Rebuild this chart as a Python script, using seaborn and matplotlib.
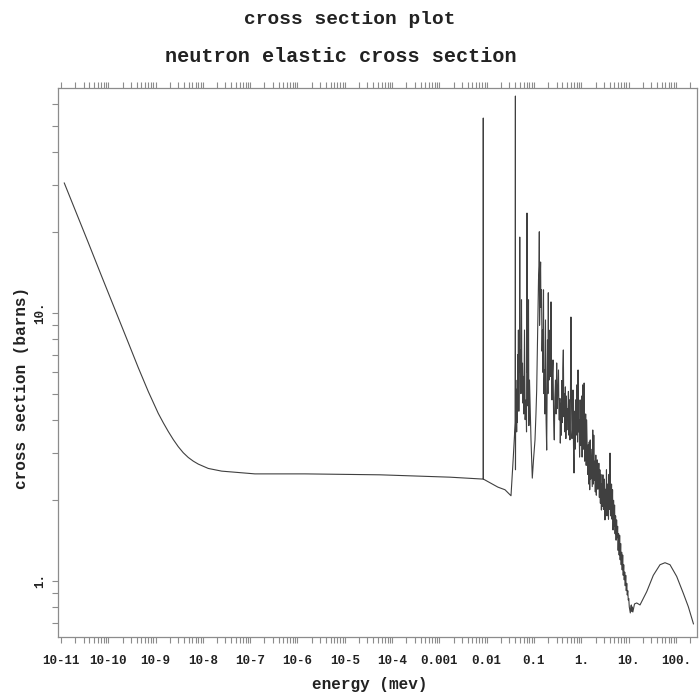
import numpy as np
import pandas as pd
import matplotlib
matplotlib.use("Agg")
import matplotlib.pyplot as plt
import seaborn as sns
from matplotlib.ticker import FixedLocator, NullFormatter

# ---------------- data ----------------
# thermal + flat region
thermal_energy = [1.17e-11, 1.98e-11, 3.78e-11, 7.25e-11, 1.39e-10, 2.65e-10, 4.31e-10,
                  7.02e-10, 9.0e-10, 1.14e-9, 1.46e-9, 1.86e-9, 2.37e-9, 3.02e-9,
                  3.85e-9, 4.91e-9, 6.27e-9, 8.00e-9, 1.30e-8,
                  2.50e-8, 5.60e-8, 1.26e-7, 6.38e-7, 1.44e-6, 5.55e-5, 1.675e-3, 7.96e-3]
thermal_sigma = [30.6, 24.3, 18.3, 13.7, 10.3, 7.75, 6.25,
                 5.09, 4.62, 4.22, 3.89, 3.61, 3.37, 3.17,
                 3.01, 2.89, 2.80, 2.73, 2.63,
                 2.57, 2.54, 2.51, 2.51, 2.51, 2.49, 2.44, 2.40]

# first two big resonances and the resolved-resonance cluster (0.008 - 0.36 MeV)
resonance_energy = [0.00843, 0.00846, 0.00852, 0.01725, 0.02437, 0.03264, 0.03651, 0.04000,
                    0.04045, 0.04060, 0.04083, 0.04122, 0.04163, 0.04224, 0.04300, 0.04372,
                    0.04450, 0.04530, 0.04589, 0.04680, 0.04760, 0.04800, 0.04950, 0.05000,
                    0.05060, 0.05183, 0.05300, 0.05441, 0.05550, 0.05712, 0.05850, 0.05940,
                    0.06100, 0.06295, 0.06500, 0.06774, 0.06950, 0.07112, 0.07200, 0.07288,
                    0.07450, 0.07652, 0.07800, 0.08033, 0.08643, 0.09206, 0.09758, 0.1050,
                    0.1100, 0.1140, 0.1197, 0.1245, 0.1280, 0.1295, 0.1310, 0.1339,
                    0.1360, 0.1379, 0.1400, 0.1441, 0.1480, 0.1512, 0.1550, 0.1588,
                    0.1620, 0.1667, 0.1700, 0.1750, 0.1800, 0.1855, 0.1900, 0.1929,
                    0.1970, 0.2006, 0.2040, 0.2076, 0.2120, 0.2180, 0.2230, 0.2288,
                    0.2340, 0.2402, 0.2460, 0.2522, 0.2600, 0.2687, 0.2760, 0.2848,
                    0.2930, 0.3019, 0.3080, 0.3139, 0.3210, 0.3296, 0.3380, 0.3460,
                    0.3530]
resonance_sigma = [2.40, 53.4, 2.40, 2.24, 2.19, 2.08, 2.90, 3.90,
                   64.5, 2.60, 4.2, 5.62, 3.66, 4.74, 3.6, 5.2,
                   3.9, 7.0, 4.6, 8.64, 4.3, 4.3, 8.0, 19.2,
                   6.0, 7.28, 5.0, 11.2, 5.3, 6.5, 4.61, 5.8,
                   4.2, 8.64, 4.0, 4.74, 3.6, 23.6, 6.0, 8.64,
                   4.5, 11.2, 3.8, 5.62, 3.36, 2.42, 2.83, 3.36,
                   4.2, 5.16, 8.64, 13.3, 15.0, 20.1, 9.0, 11.2,
                   14.0, 15.5, 10.5, 12.2, 7.2, 8.64, 6.0, 12.2,
                   5.0, 6.13, 4.2, 9.42, 4.0, 3.08, 5.5, 7.93,
                   5.0, 11.9, 6.3, 5.62, 8.0, 8.64, 5.8, 11.0,
                   6.0, 4.74, 6.0, 6.68, 4.0, 3.36, 4.8, 5.62,
                   4.2, 6.51, 4.4, 4.74, 5.3, 6.13, 4.0, 3.99,
                   4.8]

# dense unresolved band (0.36 - 15 MeV)
band_energy = [0.360, 0.369, 0.378, 0.388, 0.397, 0.407, 0.417, 0.428, 0.439, 0.450,
               0.461, 0.472, 0.484, 0.496, 0.509, 0.521, 0.534, 0.548, 0.561, 0.575,
               0.590, 0.604, 0.620, 0.635, 0.651, 0.667, 0.684, 0.701, 0.718, 0.736,
               0.755, 0.774, 0.793, 0.813, 0.833, 0.854, 0.875, 0.897, 0.920, 0.943,
               0.966, 0.990, 1.015, 1.040, 1.066, 1.093, 1.120, 1.148, 1.177, 1.207,
               1.237, 1.268, 1.299, 1.332, 1.365, 1.399, 1.434, 1.470, 1.507, 1.544,
               1.583, 1.623, 1.663, 1.705, 1.747, 1.791, 1.836, 1.882, 1.929, 1.977,
               2.026, 2.077, 2.129, 2.182, 2.237, 2.293, 2.350, 2.409, 2.469, 2.531,
               2.594, 2.659, 2.725, 2.794, 2.863, 2.935, 3.008, 3.084, 3.161, 3.240,
               3.321, 3.404, 3.489, 3.576, 3.666, 3.757, 3.851, 3.948, 4.046, 4.148,
               4.251, 4.357, 4.466, 4.578, 4.692, 4.810, 4.930, 5.053, 5.180, 5.309,
               5.442, 5.578, 5.717, 5.860, 6.007, 6.157, 6.311, 6.469, 6.630, 6.796,
               6.966, 7.140, 7.319, 7.502, 7.689, 7.882, 8.079, 8.281, 8.488, 8.700,
               8.917, 9.140, 9.369, 9.603, 9.843, 10.09, 10.34, 10.60, 10.86, 11.13,
               11.41, 11.70, 11.99, 12.29, 13.33, 14.84]
band_sigma = [3.27, 4.6, 3.5, 5.6, 3.9, 6.2, 7.28, 4.1, 5.0, 3.6,
              5.3, 3.4, 4.9, 3.66, 4.4, 3.99, 5.1, 3.5, 4.74, 3.36,
              5.0, 9.66, 4.74, 3.4, 3.66, 5.16, 3.2, 2.53, 4.3, 3.1,
              4.74, 3.5, 3.99, 5.4, 3.3, 6.13, 3.6, 3.99, 2.9, 4.74,
              3.2, 3.36, 4.9, 2.9, 5.39, 3.1, 3.66, 5.48, 2.8, 3.22,
              4.2, 2.7, 3.99, 3.08, 2.5, 3.22, 2.3, 3.3, 2.19, 3.36,
              2.4, 3.1, 2.6, 2.25, 3.66, 2.3, 3.5, 2.38, 2.8, 2.15,
              2.95, 2.09, 2.7, 2.83, 2.2, 2.38, 2.75, 2.05, 2.6, 1.95,
              2.5, 1.84, 2.3, 1.9, 2.49, 1.85, 2.01, 2.4, 1.69, 2.2,
              1.8, 2.60, 1.75, 2.3, 2.09, 1.7, 2.5, 1.85, 3.00, 1.75,
              1.84, 2.3, 1.7, 2.19, 1.55, 2.0, 1.6, 1.92, 1.5, 1.75,
              1.42, 1.69, 1.45, 1.6, 1.3, 1.5, 1.25, 1.48, 1.2, 1.38,
              1.15, 1.28, 1.1, 1.25, 1.05, 1.15, 1.01, 1.08, 0.96, 1.05,
              0.92, 0.98, 0.887, 0.92, 0.849, 0.86, 0.80, 0.78, 0.760, 0.80,
              0.814, 0.77, 0.80, 0.766, 0.821, 0.828]

# smooth high-energy hump
high_energy = [17.42, 24.14, 33.29, 46.12, 58.85, 75.06, 103.9, 143.3, 182.9, 235.6]
high_sigma = [0.814, 0.912, 1.05, 1.15, 1.17, 1.15, 1.04, 0.900, 0.802, 0.691]

xtick_values = [1e-11, 1e-10, 1e-9, 1e-8, 1e-7, 1e-6, 1e-5, 1e-4, 1e-3, 1e-2, 1e-1, 1, 10, 100]
xtick_labels = ["10-11", "10-10", "10-9", "10-8", "10-7", "10-6", "10-5", "10-4",
                "0.001", "0.01", "0.1", "1.", "10.", "100."]
ytick_values = [1, 10]
ytick_labels = ["1.", "10."]

title_lines = ["cross section plot", "neutron elastic cross section"]
x_label = "energy (mev)"
y_label = "cross section (barns)"

assert len(thermal_energy) == len(thermal_sigma)
assert len(resonance_energy) == len(resonance_sigma)
assert len(band_energy) == len(band_sigma)
assert len(high_energy) == len(high_sigma)

# ---------------- figure ----------------
sns.set_theme(style="white")
plt.rcParams["font.family"] = ["Liberation Mono", "DejaVu Sans Mono", "DejaVu Sans"]
plt.rcParams["font.weight"] = "bold"

W, H = 699, 692
fig = plt.figure(figsize=(W / 100, H / 100), dpi=100)
L, R, T, B = 58, 697, 88, 637
ax = fig.add_axes([L / W, 1 - B / H, (R - L) / W, (B - T) / H])

df = pd.DataFrame({
    "energy": thermal_energy + resonance_energy + band_energy + high_energy,
    "sigma": thermal_sigma + resonance_sigma + band_sigma + high_sigma,
})
sns.lineplot(data=df, x="energy", y="sigma", ax=ax, estimator=None, sort=False,
             color="#404040", linewidth=0.8)

ax.set_xscale("log")
ax.set_yscale("log")
ax.set_xlim(10 ** -11.063, 10 ** 2.446)
ax.set_ylim(10 ** -0.209, 10 ** 1.8396)

# ticks
ax.xaxis.set_major_locator(FixedLocator(xtick_values))
ax.set_xticklabels(xtick_labels)
minor_x = [m * v for v in xtick_values + [1000] for m in range(2, 10)]
ax.xaxis.set_minor_locator(FixedLocator(minor_x))
ax.xaxis.set_minor_formatter(NullFormatter())

ax.yaxis.set_major_locator(FixedLocator(ytick_values))
ax.set_yticklabels(ytick_labels, rotation=90, va="center")
minor_y = [m * v for v in [0.1, 1, 10] for m in range(2, 10)]
ax.yaxis.set_minor_locator(FixedLocator(minor_y))
ax.yaxis.set_minor_formatter(NullFormatter())

spine_c = "#8c8c8c"
ax.tick_params(axis="x", which="both", direction="out", bottom=True, top=True,
               labelbottom=True, labeltop=False, length=4, width=0.8, color=spine_c,
               pad=9, labelsize=9, labelcolor="#222222")
ax.tick_params(axis="y", which="both", direction="out", left=True, right=False,
               length=4, width=0.8, color=spine_c, pad=4.5, labelsize=9,
               labelcolor="#222222")
for lbl in ax.get_xticklabels() + ax.get_yticklabels():
    lbl.set_fontweight("bold")

for s in ax.spines.values():
    s.set_visible(True)
    s.set_color(spine_c)
    s.set_linewidth(0.9)

ax.set_xlabel(x_label, fontsize=11.5, fontweight="bold", color="#222222")
ax.xaxis.set_label_coords((370 - L) / (R - L), (B - 684) / (B - T))
ax.xaxis.label.set_va("center")
ax.set_ylabel(y_label, fontsize=11.5, fontweight="bold", color="#222222")
ax.yaxis.set_label_coords((22 - L) / (R - L), (B - 388) / (B - T))
ax.yaxis.label.set_va("center")

fig.text(0.5, 1 - 20 / H, title_lines[0], ha="center", va="center",
         fontsize=14, fontweight="bold", color="#222222")
fig.text(341 / W, 1 - 56 / H, title_lines[1], ha="center", va="center",
         fontsize=14.5, fontweight="bold", color="#222222")

ax.grid(False)
fig.savefig("out.png", dpi=100, facecolor="white")
